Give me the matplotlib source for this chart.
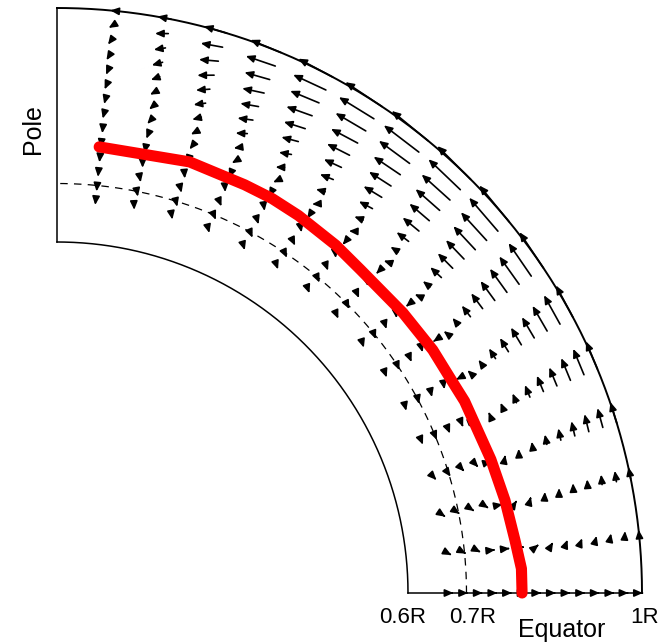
import numpy as np
import matplotlib
matplotlib.use('Agg')
import matplotlib.pyplot as plt

plt.rcParams['font.family'] = ['Liberation Sans', 'DejaVu Sans']

# grid of the flow field: radii (fraction of R) and latitudes (degrees from equator)
radii = [1.0, 0.975, 0.95, 0.925, 0.9, 0.875, 0.85, 0.825, 0.8, 0.775, 0.75, 0.725, 0.7, 0.675]
lats = [0.0, 5.625, 11.25, 16.875, 22.5, 28.125, 33.75, 39.375, 45.0,
        50.625, 56.25, 61.875, 67.5, 73.125, 78.75, 84.375]

# latitudinal velocity (poleward > 0), one row per radius, read as arrow length in px
u_theta = [
    [0, 6, 12, 22, 30, 36, 43, 47, 47, 47, 44, 39, 33, 24, 14, 4],
    [0, 6, 11, 20, 28, 33, 40, 44, 44, 44, 41, 36, 31, 22, 13, 4],
    [0, 5, 10, 18, 24, 29, 34, 38, 38, 38, 35, 31, 26, 19, 11, 3],
    [0, 4, 8, 15, 20, 24, 29, 32, 32, 32, 30, 27, 22, 16, 10, 3],
    [0, 3, 7, 12, 17, 20, 24, 26, 26, 26, 25, 22, 18, 13, 8, 2],
    [0, 3, 5, 10, 13, 16, 19, 21, 21, 21, 19, 17, 15, 11, 6, 2],
    [0, 2, 4, 7, 10, 12, 14, 15, 15, 15, 14, 12, 11, 8, 4, 1],
    [0, 1, 2, 4, 6, 7, 9, 9, 9, 9, 9, 8, 7, 5, 3, 1],
    [0, 0, 1, 2, 2, 3, 3, 4, 4, 4, 4, 3, 3, 2, 1, 0],
    [0, 0, 0, 0, 0, 0, 0, 0, 0, 0, 0, 0, 0, 0, 0, 0],
    [0, 0, -1, -2, -2, -3, -3, -3, -3, -3, -3, -3, -2, -2, -1, 0],
    [0, -1, -1, -2, -3, -4, -5, -5, -5, -5, -5, -4, -4, -3, -2, 0],
    [0, -1, -1, -3, -4, -4, -5, -6, -6, -6, -5, -5, -4, -3, -2, 0],
    [0, -1, -1, -2, -3, -4, -4, -5, -5, -5, -4, -4, -3, -2, -1, 0],
]

# radial velocity (outward > 0), same layout
u_r = [
    [0, 0, 0, 0, 0, 0, 0, 0, 0, 0, 0, 0, 0, 0, 0, 0],
    [1, 1, 0.5, 0.5, 0, -0.5, -0.5, -1, -1, -1.5, -1.5, -2, -2, -2.5, -2.5, -3],
    [1.5, 1.5, 1, 1, 0, -1, -1, -2, -2, -2, -2, -3, -3, -4, -4, -5],
    [1.5, 1.5, 1, 1, 0, -1, -1, -2, -2, -3, -3, -4, -4, -5, -5, -6],
    [1.5, 1.5, 1, 1, 0, -1, -1, -2, -2, -3, -3, -4, -4, -5, -5, -6],
    [1.5, 1.5, 1, 1, 0, -1, -1, -2, -2, -3, -3, -4, -4, -5, -5, -6],
    [1.5, 1.5, 1, 1, 0, -1, -1, -2, -2, -3, -3, -4, -4, -5, -5, -6],
    [1.5, 1.5, 1, 1, 0, -1, -1, -2, -2, -3, -3, -4, -4, -5, -5, -6],
    [1.5, 1.5, 1, 1, 0, -1, -1, -2, -2, -3, -3, -4, -4, -5, -5, -6],
    [1.5, 1.5, 1, 1, 0.5, -1, -1, -2, -2, -3, -3, -4, -4, -5, -5, -6],
    [1.5, 1.5, 1, 1, 0, -1, -1, -2, -2, -3, -3, -4, -4, -5, -5, -6],
    [1.5, 1.5, 1, 1, 0, -1, -1, -2, -2, -3, -3, -4, -4, -5, -5, -6],
    [1.5, 1.5, 1, 1, 0, -1, -1, -2, -2, -3, -3, -4, -4, -5, -5, -6],
    [1.5, 1.5, 1, 1, 0, -1, -1, -2, -2, -3, -3, -4, -4, -4, -4, -5],
]

# red curve: (latitude in degrees, radius)
red_lat = [84.6, 72.9, 65.3, 61.4, 57.4, 51.3, 46.8, 39.0, 32.9, 28.5, 25.2,
           17.1, 11.7, 6.6, 3.0, 0.0]
red_r = [0.766, 0.771, 0.768, 0.768, 0.766, 0.762, 0.758, 0.761, 0.765, 0.766, 0.770,
         0.776, 0.782, 0.788, 0.795, 0.795]

PX = 585.0  # pixels per R

fig = plt.figure(figsize=(6.66, 6.42), dpi=100)
ax = fig.add_axes([0, 0, 1, 1])
ax.set_xlim(-57 / PX, 609 / PX)
ax.set_ylim(-49 / PX, 593 / PX)
ax.set_aspect('equal')
ax.axis('off')

# boundaries
th = np.linspace(0, np.pi / 2, 300)
ax.plot(np.cos(th), np.sin(th), color='black', lw=1.4)
ax.plot(0.6 * np.cos(th), 0.6 * np.sin(th), color='black', lw=1.1)
ax.plot([0, 0], [0.6, 1.0], color='black', lw=1.1)
ax.plot([0.6, 1.0], [0, 0], color='black', lw=1.1)
ax.plot(0.7 * np.cos(th), 0.7 * np.sin(th), color='black', lw=0.9, dashes=(6, 5))

# flow arrows
for i, r in enumerate(radii):
    for j, lat in enumerate(lats):
        a = np.radians(lat)
        vr = u_r[i][j]
        vt = u_theta[i][j]
        dx = vr * np.cos(a) - vt * np.sin(a)
        dy = vr * np.sin(a) + vt * np.cos(a)
        ln = np.hypot(dx, dy)
        if ln < 0.8:
            if ln == 0:
                dx, dy = np.cos(a), np.sin(a)
                ln = 1.0
            dx, dy = dx / ln * 0.8, dy / ln * 0.8
        x0, y0 = r * np.cos(a), r * np.sin(a)
        ax.annotate('', xy=(x0 + dx / PX, y0 + dy / PX), xytext=(x0, y0),
                    arrowprops=dict(arrowstyle='-|>,head_length=0.5,head_width=0.22',
                                    mutation_scale=10, lw=1.2, color='black',
                                    shrinkA=0, shrinkB=0))

# red line
rl = np.radians(red_lat)
ax.plot(np.array(red_r) * np.cos(rl), np.array(red_r) * np.sin(rl),
        color='#ff0000', lw=8, solid_capstyle='round', solid_joinstyle='round', zorder=5)

# labels
ax.text(0.590, -0.0513, '0.6R', ha='center', va='baseline', fontsize=16)
ax.text(0.711, -0.0513, '0.7R', ha='center', va='baseline', fontsize=16)
ax.text(1.005, -0.0513, '1R', ha='center', va='baseline', fontsize=16)
ax.text(0.862, -0.0752, 'Equator', ha='center', va='baseline', fontsize=18)
ax.text(-0.041, 0.793, 'Pole', ha='center', va='center', rotation=90, fontsize=18)

fig.savefig('out.png', dpi=100)
